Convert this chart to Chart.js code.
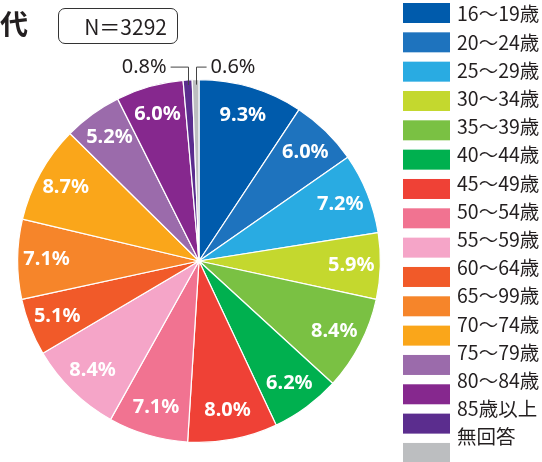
<!DOCTYPE html>
<html lang="ja">
<head>
<meta charset="UTF-8">
<title>年代</title>
<script src="https://cdn.jsdelivr.net/npm/chart.js"></script>
<style>
    body { margin: 0; background: #fff; font-family: "Noto Sans CJK JP", "Noto Sans", sans-serif; }
    #wrap { position: relative; width: 542px; height: 462px; }
    #title { position: absolute; left: 0; top: 5px; font-size: 28px; font-weight: bold; color: #231f20; line-height: 36px; }
    #nbox { position: absolute; left: 58px; top: 8px; width: 108px; height: 34px; border: 1px solid #333; border-radius: 7px;
            font-size: 21px; line-height: 34px; text-align: right; padding-right: 10px; color: #231f20; }
</style>
</head>
<body>
<div id="wrap">
    <canvas id="chart" width="542" height="462"></canvas>
    <div id="title">代</div>
    <div id="nbox">N＝3292</div>
</div>
<script>
const labels = ['16〜19歳', '20〜24歳', '25〜29歳', '30〜34歳', '35〜39歳', '40〜44歳', '45〜49歳', '50〜54歳',
    '55〜59歳', '60〜64歳', '65〜99歳', '70〜74歳', '75〜79歳', '80〜84歳', '85歳以上', '無回答'];
const values = [9.3, 6.0, 7.2, 5.9, 8.4, 6.2, 8.0, 7.1, 8.4, 5.1, 7.1, 8.7, 5.2, 6.0, 0.8, 0.6];
const colors = ['#005bac', '#1e73be', '#29abe2', '#c4d82e', '#7ac143', '#00b04f', '#ef4136', '#f17391',
    '#f5a5c8', '#f15a29', '#f6852a', '#faa61a', '#9b6bab', '#86288e', '#5b2d8e', '#bcbec0'];

// slice labels + leader lines for the tiny slices
const sliceLabels = {
    id: 'sliceLabels',
    afterDatasetsDraw(chart) {
        const ctx = chart.ctx;
        const arcs = chart.getDatasetMeta(0).data;
        ctx.save();
        arcs.forEach((arc, i) => {
            const v = values[i];
            const txt = v.toFixed(1) + '%';
            const mid = (arc.startAngle + arc.endAngle) / 2;
            if (v >= 1) {
                const r = arc.outerRadius * 0.84;
                ctx.font = 'bold 20px "Noto Sans"';
                ctx.fillStyle = '#fff';
                ctx.textAlign = 'center';
                ctx.textBaseline = 'middle';
                ctx.fillText(txt, arc.x + Math.cos(mid) * r, arc.y + Math.sin(mid) * r);
            } else {
                const px = arc.x + Math.cos(mid) * arc.outerRadius;
                const py = arc.y + Math.sin(mid) * arc.outerRadius + 5;
                const ly = arc.y - arc.outerRadius - 13;
                const left = i === values.length - 2;
                const ex = left ? px - 17 : px + 11;
                ctx.strokeStyle = '#444';
                ctx.lineWidth = 1;
                ctx.beginPath();
                ctx.moveTo(Math.round(px) + 0.5, py);
                ctx.lineTo(Math.round(px) + 0.5, ly + 0.5);
                ctx.lineTo(ex, ly + 0.5);
                ctx.stroke();
                ctx.font = '20px "Noto Sans"';
                ctx.fillStyle = '#231f20';
                ctx.textBaseline = 'middle';
                ctx.textAlign = left ? 'right' : 'left';
                ctx.fillText(txt, left ? ex - 4 : ex + 4, ly + 1);
            }
        });
        ctx.restore();
    }
};

// legend on the right
const sideLegend = {
    id: 'sideLegend',
    afterDraw(chart) {
        const ctx = chart.ctx;
        ctx.save();
        ctx.font = '19.5px "Noto Sans CJK JP"';
        ctx.textBaseline = 'middle';
        ctx.textAlign = 'left';
        labels.forEach((lab, i) => {
            ctx.fillStyle = colors[i];
            ctx.fillRect(403, 3 + i * 29.33, 47, 20);
            ctx.fillStyle = '#231f20';
            ctx.fillText(lab, 457, 14 + i * 28.2);
        });
        ctx.restore();
    }
};

new Chart(document.getElementById('chart'), {
    type: 'pie',
    data: {
        labels: labels,
        datasets: [{
            data: values,
            backgroundColor: colors,
            borderColor: '#fff',
            borderWidth: 1.2
        }]
    },
    options: {
        responsive: false,
        animation: false,
        layout: { padding: { left: 17, right: 161, top: 79, bottom: 19 } },
        plugins: {
            legend: { display: false },
            tooltip: { enabled: false }
        }
    },
    plugins: [sliceLabels, sideLegend]
});
</script>
</body>
</html>
